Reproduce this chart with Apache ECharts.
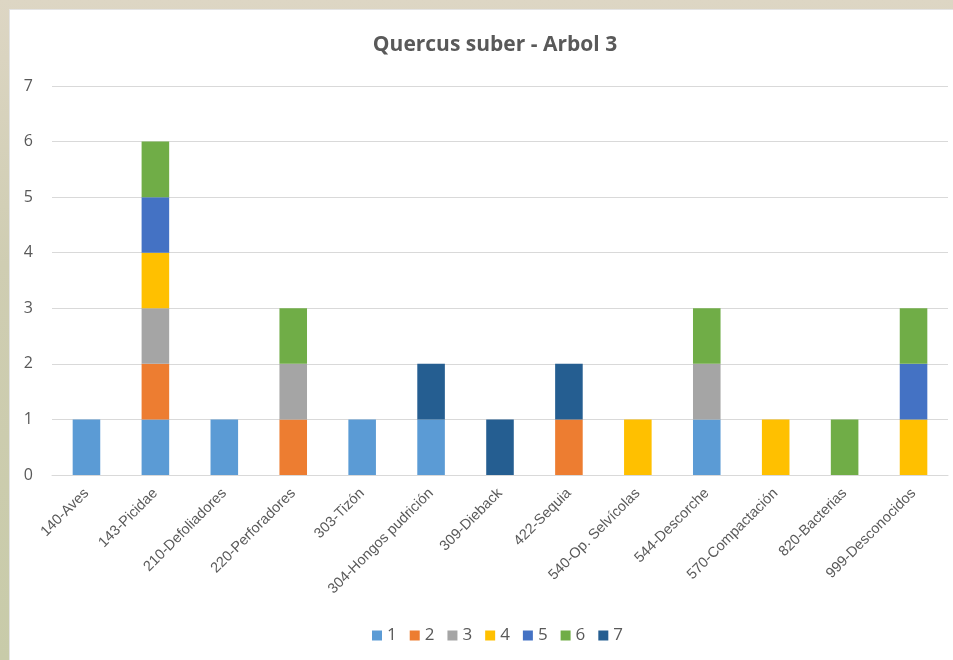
<!DOCTYPE html>
<html>
<head>
<meta charset="utf-8">
<script src="https://cdn.jsdelivr.net/npm/echarts@6/dist/echarts.min.js"></script>
<style>
html,body{margin:0;padding:0;width:953px;height:660px;overflow:hidden;}
body{background:linear-gradient(180deg,#ddd6c4 0%,#cfcdb2 40%,#c8cba9 100%);position:relative;}
#panel{position:absolute;left:9px;top:9px;width:944px;height:651px;background:#fff;border-left:1px solid #e4e4e4;border-top:1px solid #e4e4e4;box-sizing:border-box;}
#chart{position:absolute;left:0;top:0;width:953px;height:660px;}
</style>
</head>
<body>
<div id="panel"></div>
<div id="chart"></div>
<script>
const categories = ["140-Aves","143-Picidae","210-Defoliadores","220-Perforadores","303-Tizón","304-Hongos pudrición","309-Dieback","422-Sequia","540-Op. Selvícolas","544-Descorche","570-Compactación","820-Bacterias","999-Desconocidos"];
const seriesNames = ["1","2","3","4","5","6","7"];
const s1 = [1,1,1,0,1,1,0,0,0,1,0,0,0];
const s2 = [0,1,0,1,0,0,0,1,0,0,0,0,0];
const s3 = [0,1,0,1,0,0,0,0,0,1,0,0,0];
const s4 = [0,1,0,0,0,0,0,0,1,0,1,0,1];
const s5 = [0,1,0,0,0,0,0,0,0,0,0,0,1];
const s6 = [0,1,0,1,0,0,0,0,0,1,0,1,1];
const s7 = [0,0,0,0,0,1,1,1,0,0,0,0,0];
const seriesValues = [s1,s2,s3,s4,s5,s6,s7];
const colors = ["#5B9BD5","#ED7D31","#A5A5A5","#FFC000","#4472C4","#70AD47","#255E91"];
const yTicks = [0,1,2,3,4,5,6,7];

const chart = echarts.init(document.getElementById('chart'));
chart.setOption({
  animation:false,
  color: colors,
  title:{
    text:"Quercus suber - Arbol 3",
    left:490, textAlign:'center', top:30,
    textStyle:{fontFamily:"Open Sans",fontWeight:'bold',fontSize:21,color:'#595959'}
  },
  legend:{
    top:622, left:367,
    itemWidth:10,itemHeight:10,itemGap:13,
    icon:'rect',
    textStyle:{fontFamily:"Open Sans",fontSize:17,color:'#595959'},
    data: seriesNames
  },
  grid:{left:52,right:5,top:86,bottom:185,containLabel:false},
  xAxis:{
    type:'category', data:categories,
    axisLine:{lineStyle:{color:'#D9D9D9',width:1}},
    axisTick:{show:false},
    axisLabel:{rotate:45,interval:0,fontFamily:"Liberation Sans",fontSize:14.5,color:'#595959',margin:16}
  },
  yAxis:{
    type:'value', min:yTicks[0], max:yTicks[yTicks.length-1], interval:1,
    axisLine:{show:false}, axisTick:{show:false},
    splitLine:{lineStyle:{color:'#D9D9D9',width:1}},
    axisLabel:{fontFamily:"Open Sans",fontSize:16,color:'#595959',margin:19}
  },
  series: seriesNames.map((n,i)=>({
    name:n, type:'bar', stack:'total', barWidth:'40%',
    data: seriesValues[i].map(v=> v===0 ? null : v),
    itemStyle:{color:colors[i]}
  }))
});
</script>
</body>
</html>
